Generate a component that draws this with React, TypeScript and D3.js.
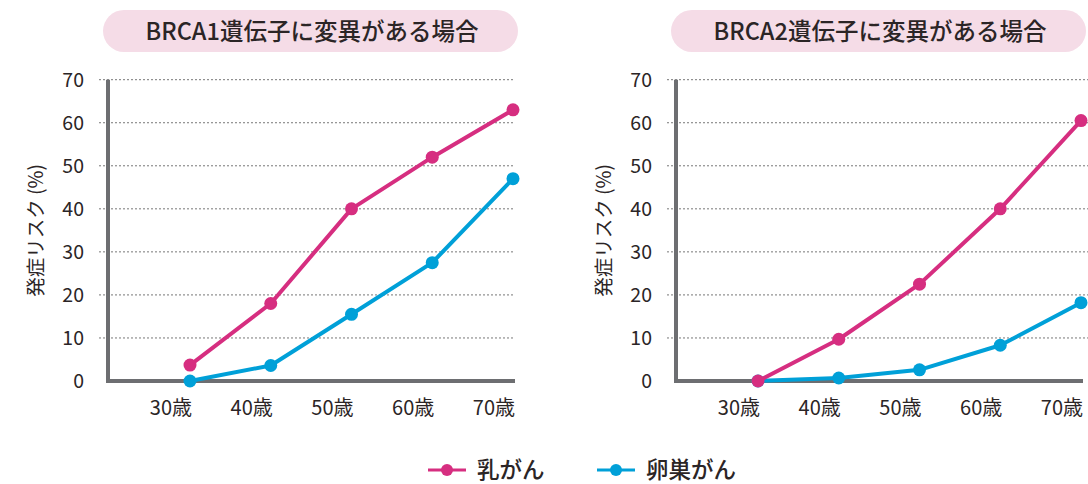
import React from 'react';
import * as d3 from 'd3';

const ages = ['30歳', '40歳', '50歳', '60歳', '70歳'];
const yTicks = [0, 10, 20, 30, 40, 50, 60, 70];

const brca1Breast = [3.7, 18, 40, 52, 63];
const brca1Ovary = [0, 3.6, 15.5, 27.5, 47];
const brca2Breast = [0, 9.7, 22.5, 40, 60.5];
const brca2Ovary = [0, 0.7, 2.6, 8.3, 18.2];

const titles = ['BRCA1遺伝子に変異がある場合', 'BRCA2遺伝子に変異がある場合'];
const seriesNames = ['乳がん', '卵巣がん'];

const PINK = '#d62e80';
const BLUE = '#00a0d8';
const AXIS = '#6d6e71';
const TEXT = '#2b2526';
const FONT = '"Noto Sans CJK JP", "Noto Sans", sans-serif';

interface PanelProps {
  dx: number;
  title: string;
  breast: number[];
  ovary: number[];
}

const Panel: React.FC<PanelProps> = ({ dx, title, breast, ovary }) => {
  const axisX = 108;
  const x = d3.scalePoint<string>().domain(ages).range([190, 513]);
  const y = d3.scaleLinear().domain([0, 70]).range([381, 79.7]);

  const line = d3
    .line<number>()
    .x((_, i) => x(ages[i]) as number)
    .y((d) => y(d));

  const series = [
    { data: breast, color: PINK },
    { data: ovary, color: BLUE },
  ];

  return (
    <g transform={`translate(${dx},0)`}>
      {/* title pill */}
      <rect x={103} y={10} width={415} height={42} rx={21} fill="#f5dce7" />
      <text
        x={312}
        y={39.5}
        textAnchor="middle"
        fontSize={23.5}
        fontWeight={500}
        fill={TEXT}
        fontFamily={FONT}
      >
        {title}
      </text>

      {/* grid */}
      {yTicks.filter((t) => t > 0).map((t) => (
        <line
          key={t}
          x1={99}
          x2={dx > 0 ? 520 : 515}
          y1={y(t)}
          y2={y(t)}
          stroke="#777"
          strokeWidth={1}
          strokeDasharray="2,2"
        />
      ))}

      {/* y tick labels */}
      {yTicks.map((t) => (
        <text
          key={t}
          x={84}
          y={y(t)}
          dy="0.36em"
          textAnchor="end"
          fontSize={19.5}
          fill={TEXT}
          fontFamily={FONT}
        >
          {t}
        </text>
      ))}

      {/* y axis title */}
      <text
        transform={`translate(43,${y(35)}) rotate(-90)`}
        textAnchor="middle"
        fontSize={19.5}
        fill={TEXT}
        fontFamily={FONT}
      >
        発症リスク (%)
      </text>

      {/* axes */}
      <line x1={axisX} x2={axisX} y1={y(70)} y2={y(0) + 2} stroke={AXIS} strokeWidth={4} />
      <line x1={axisX - 2} x2={515} y1={y(0)} y2={y(0)} stroke={AXIS} strokeWidth={4} />

      {/* x tick labels */}
      {ages.map((a) => (
        <text
          key={a}
          x={(x(a) as number) + 2}
          y={415}
          textAnchor="end"
          fontSize={20}
          fill={TEXT}
          fontFamily={FONT}
        >
          {a}
        </text>
      ))}

      {/* series: ovary drawn first so breast sits on top at 0 */}
      {[series[1], series[0]].map((s, si) => (
        <g key={si}>
          <path d={line(s.data) ?? ''} fill="none" stroke={s.color} strokeWidth={4} strokeLinejoin="round" />
          {s.data.map((v, i) => (
            <circle key={i} cx={x(ages[i]) as number} cy={y(v)} r={6.5} fill={s.color} />
          ))}
        </g>
      ))}
    </g>
  );
};

const App: React.FC = () => {
  const legend = [
    { name: seriesNames[0], color: PINK, x: 428 },
    { name: seriesNames[1], color: BLUE, x: 597 },
  ];

  return (
    <svg
      width={1088}
      height={484}
      style={{ position: 'absolute', left: 0, top: 0, background: '#fff' }}
    >
      <Panel dx={0} title={titles[0]} breast={brca1Breast} ovary={brca1Ovary} />
      <Panel dx={568} title={titles[1]} breast={brca2Breast} ovary={brca2Ovary} />

      {legend.map((l) => (
        <g key={l.name} transform={`translate(${l.x},470)`}>
          <line x1={0} x2={38} y1={0} y2={0} stroke={l.color} strokeWidth={3} />
          <circle cx={19} cy={0} r={6} fill={l.color} />
          <text
            x={49}
            y={0}
            dy="0.36em"
            fontSize={22.5}
            fontWeight={500}
            fill={TEXT}
            fontFamily={FONT}
          >
            {l.name}
          </text>
        </g>
      ))}
    </svg>
  );
};

export default App;
